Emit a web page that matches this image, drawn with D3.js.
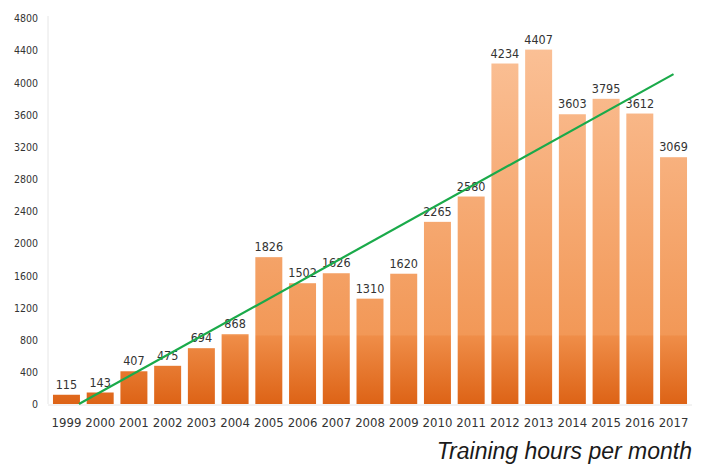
<!DOCTYPE html>
<html>
<head>
<meta charset="utf-8">
<script src="https://cdn.jsdelivr.net/npm/d3@7"></script>
<style>
  html, body { margin: 0; padding: 0; background: #fff; }
  svg { display: block; }
  .narrow { font-family: "Liberation Sans Narrow", "DejaVu Sans Condensed", "Liberation Sans", sans-serif; }
</style>
</head>
<body>
<svg id="chart" width="709" height="464"></svg>
<script>
const years = ["1999","2000","2001","2002","2003","2004","2005","2006","2007","2008","2009","2010","2011","2012","2013","2014","2015","2016","2017"];
const hours = [115,143,407,475,694,868,1826,1502,1626,1310,1620,2265,2580,4234,4407,3603,3795,3612,3069];
const yTicks = [0,400,800,1200,1600,2000,2400,2800,3200,3600,4000,4400,4800];
const title = "Training hours per month";

const svg = d3.select("#chart");
const W = 709, H = 464;
const margin = {left: 49.6, right: W - 690.4, top: 18, bottom: H - 404};

const x = d3.scaleBand().domain(years).range([margin.left, W - margin.right]).paddingInner(0.2).paddingOuter(0.1);
const y = d3.scaleLinear().domain([0, 4800]).range([H - margin.bottom, margin.top]);

// gradient in absolute coordinates (light at top, deep orange at bottom)
const defs = svg.append("defs");
const grad = defs.append("linearGradient").attr("id", "barGrad")
  .attr("gradientUnits", "userSpaceOnUse")
  .attr("x1", 0).attr("x2", 0).attr("y1", y(4800)).attr("y2", y(0));
[[0, "#fbc49c"], [0.3, "#f8b483"], [0.82, "#f29857"], [0.825, "#ef8d48"], [1, "#dd6316"]]
  .forEach(([o, c]) => grad.append("stop").attr("offset", o).attr("stop-color", c));

// axis lines
svg.append("line").attr("x1", 48).attr("x2", 48).attr("y1", y(4800) - 2).attr("y2", y(0))
  .attr("stroke", "#e6e6e6").attr("stroke-width", 1);
svg.append("line").attr("x1", 48).attr("x2", 692).attr("y1", y(0) + 1).attr("y2", y(0) + 1)
  .attr("stroke", "#e6e6e6").attr("stroke-width", 1);

// y axis
const yAxis = d3.axisLeft(y).tickValues(yTicks).tickSize(0).tickPadding(0).tickFormat(d3.format("d"));
const ya = svg.append("g").attr("transform", "translate(38,0)").call(yAxis);
ya.select(".domain").remove();
ya.selectAll("text").attr("class", "narrow").attr("font-size", 10.5).attr("fill", "#333").attr("dy", "0.35em");

// x axis
const xAxis = d3.axisBottom(x).tickSize(0).tickPadding(0);
const xa = svg.append("g").attr("transform", `translate(0,${y(0) + 14})`).call(xAxis);
xa.select(".domain").remove();
xa.selectAll("text").attr("class", "narrow").attr("font-size", 13).attr("fill", "#333").attr("dy", "0.71em");

// bars
svg.append("g").selectAll("rect").data(years).join("rect")
  .attr("x", d => x(d)).attr("width", x.bandwidth())
  .attr("y", (d, i) => y(hours[i])).attr("height", (d, i) => y(0) - y(hours[i]))
  .attr("fill", "url(#barGrad)");

// value labels
svg.append("g").selectAll("text").data(years).join("text")
  .attr("class", "narrow")
  .attr("x", d => x(d) + x.bandwidth() / 2)
  .attr("y", (d, i) => y(hours[i]) - 6)
  .attr("text-anchor", "middle").attr("font-size", 12.5).attr("fill", "#333")
  .text((d, i) => hours[i]);

// linear trend line (least squares on index), clipped at zero
const n = hours.length;
const idx = d3.range(1, n + 1);
const mx = d3.mean(idx), my = d3.mean(hours);
const slope = d3.sum(idx, (v, i) => (v - mx) * (hours[i] - my)) / d3.sum(idx, v => (v - mx) ** 2);
const intercept = my - slope * mx;
const xi = d3.scaleLinear().domain([1, n]).range([x(years[0]) + x.bandwidth() / 2, x(years[n - 1]) + x.bandwidth() / 2]);
const startI = Math.max(1, -intercept / slope);
const trend = [startI, n].map(i => [xi(i), y(intercept + slope * i)]);
svg.append("path").attr("d", d3.line()(trend))
  .attr("stroke", "#1aaa4a").attr("stroke-width", 2.2).attr("fill", "none");

// caption
svg.append("text").attr("x", 692).attr("y", 459).attr("text-anchor", "end")
  .attr("font-family", "'Liberation Sans', Arial, sans-serif").attr("font-style", "italic")
  .attr("font-size", 23).attr("fill", "#1a1a1a").text(title);
</script>
</body>
</html>
